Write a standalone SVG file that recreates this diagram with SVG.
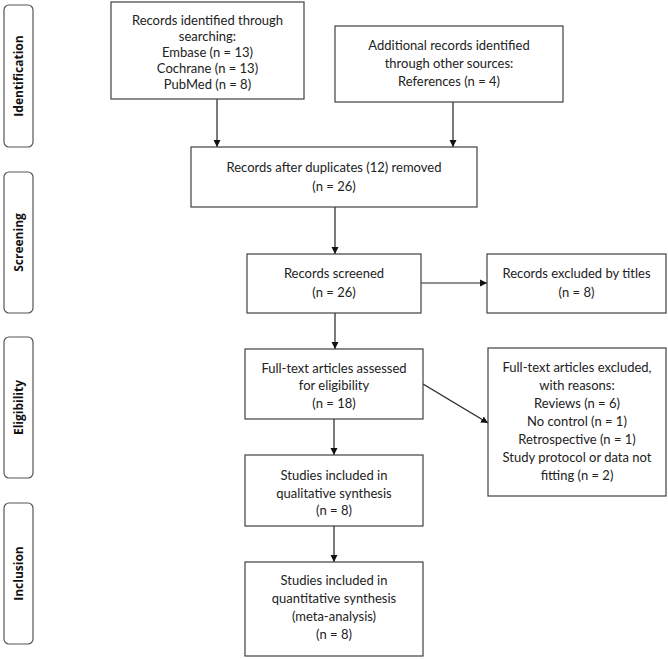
<svg xmlns="http://www.w3.org/2000/svg" width="668" height="659" viewBox="0 0 668 659">
<style>
.box{fill:#fff;stroke:#404040;stroke-width:1.2}
.phase{fill:#fff;stroke:#555;stroke-width:1.2}
text{font-family:Lato,"Liberation Sans",sans-serif;font-size:13px;fill:#222;text-anchor:middle}
.ph{font-family:"Open Sans","Liberation Sans",sans-serif;font-weight:bold;font-size:12px;fill:#111}
.con{stroke:#222;stroke-width:1.2;fill:none;marker-end:url(#ah)}
</style>
<defs>
<marker id="ah" markerWidth="8" markerHeight="8" refX="7" refY="4" orient="auto" markerUnits="userSpaceOnUse">
<path d="M0,0.5 L7,4 L0,7.5 z" fill="#111"/>
</marker>
</defs>
<rect width="668" height="659" fill="#fff"/>
<g id="phase-identification"><rect class="phase" x="4" y="5" width="29" height="142" rx="5"/><text class="ph" transform="translate(23,76) rotate(-90)">Identification</text></g>
<g id="phase-screening"><rect class="phase" x="4" y="172" width="29" height="141" rx="5"/><text class="ph" transform="translate(23,242.5) rotate(-90)">Screening</text></g>
<g id="phase-eligibility"><rect class="phase" x="4" y="337" width="29" height="141" rx="5"/><text class="ph" transform="translate(23,407.5) rotate(-90)">Eligibility</text></g>
<g id="phase-inclusion"><rect class="phase" x="4" y="503" width="29" height="141" rx="5"/><text class="ph" transform="translate(23,573.5) rotate(-90)">Inclusion</text></g>

<g id="connectors">
<line class="con" x1="217" y1="99" x2="217" y2="147"/>
<line class="con" x1="453" y1="102" x2="453" y2="147"/>
<line class="con" x1="335" y1="207" x2="335" y2="254"/>
<line class="con" x1="421" y1="283" x2="487" y2="283"/>
<line class="con" x1="335" y1="313" x2="335" y2="349"/>
<line class="con" x1="423" y1="384" x2="488" y2="423"/>
<line class="con" x1="334" y1="419" x2="334" y2="455"/>
<line class="con" x1="334" y1="526" x2="334" y2="562"/>
</g>

<g id="n1"><rect class="box" x="111" y="2" width="193" height="97"/>
<text x="207.5" y="25">Records identified through</text>
<text x="207.5" y="41">searching:</text>
<text x="207.5" y="57">Embase (n = 13)</text>
<text x="207.5" y="73">Cochrane (n = 13)</text>
<text x="207.5" y="89">PubMed (n = 8)</text></g>

<g id="n2"><rect class="box" x="335" y="26" width="228" height="76"/>
<text x="449" y="50">Additional records identified</text>
<text x="449" y="68">through other sources:</text>
<text x="449" y="86">References (n = 4)</text></g>

<g id="n3"><rect class="box" x="191" y="147" width="286" height="60"/>
<text x="334" y="172">Records after duplicates (12) removed</text>
<text x="334" y="191">(n = 26)</text></g>

<g id="n4"><rect class="box" x="247" y="254" width="174" height="59"/>
<text x="334" y="278">Records screened</text>
<text x="334" y="297">(n = 26)</text></g>

<g id="n5"><rect class="box" x="487" y="254" width="179" height="59"/>
<text x="576.5" y="278">Records excluded by titles</text>
<text x="576.5" y="297">(n = 8)</text></g>

<g id="n6"><rect class="box" x="245" y="349" width="178" height="70"/>
<text x="334" y="373">Full-text articles assessed</text>
<text x="334" y="390">for eligibility</text>
<text x="334" y="408">(n = 18)</text></g>

<g id="n7"><rect class="box" x="488" y="348" width="178" height="148"/>
<text x="577" y="372">Full-text articles excluded,</text>
<text x="577" y="390">with reasons:</text>
<text x="577" y="408">Reviews (n = 6)</text>
<text x="577" y="426">No control (n = 1)</text>
<text x="577" y="444">Retrospective (n = 1)</text>
<text x="577" y="462">Study protocol or data not</text>
<text x="577" y="480">fitting (n = 2)</text></g>

<g id="n8"><rect class="box" x="245" y="455" width="178" height="71"/>
<text x="334" y="480">Studies included in</text>
<text x="334" y="498">qualitative synthesis</text>
<text x="334" y="515">(n = 8)</text></g>

<g id="n9"><rect class="box" x="245" y="562" width="178" height="94"/>
<text x="334" y="585">Studies included in</text>
<text x="334" y="603">quantitative synthesis</text>
<text x="334" y="621">(meta-analysis)</text>
<text x="334" y="639">(n = 8)</text></g>
</svg>
